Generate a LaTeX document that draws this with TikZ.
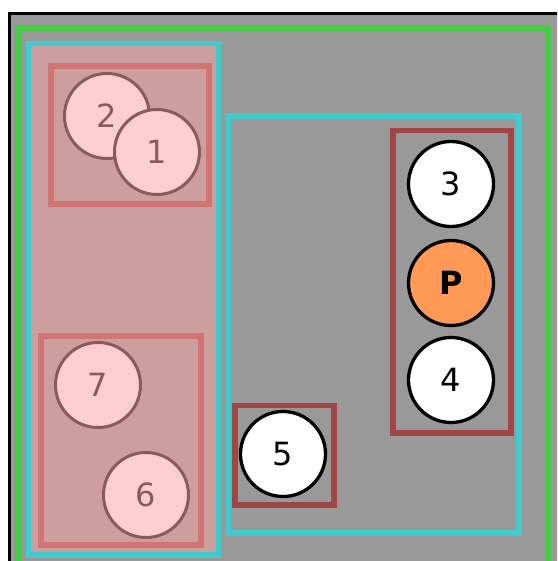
\documentclass[tikz,border=0pt]{standalone}
\usepackage{fontspec}
\setmainfont{DejaVu Sans}
\definecolor{bggray}{HTML}{999999}
\definecolor{grn}{HTML}{44CC44}
\definecolor{cyn}{HTML}{40CCCC}
\definecolor{pinkfill}{HTML}{CD9E9E}
\definecolor{lightred}{HTML}{D07474}
\definecolor{darkred}{HTML}{A04646}
\definecolor{pinkcirc}{HTML}{FFCECE}
\definecolor{pinkline}{HTML}{8B5A5A}
\definecolor{orng}{HTML}{FF9955}
\tikzset{
  pcirc/.style={circle, draw=pinkline, line width=3pt, fill=pinkcirc, minimum size=85pt, inner sep=0pt, text=pinkline, font=\fontsize{32}{32}\selectfont},
  wcirc/.style={circle, draw=black, line width=3.3pt, fill=white, minimum size=85pt, inner sep=0pt, text=black, font=\fontsize{32}{32}\selectfont},
  cybox/.style={draw=cyn, line width=5.5pt},
  lrbox/.style={draw=lightred, line width=5.5pt},
  drbox/.style={draw=darkred, line width=5.5pt},
}
\begin{document}
\begin{tikzpicture}[x=1pt,y=-1pt]
\useasboundingbox (0,0) rectangle (557,561);
\clip (0,0) rectangle (557,561);
\fill[white] (0,0) rectangle (557,561);
\draw[black, line width=3pt, fill=bggray] (9.5,14) rectangle (600,600);
\draw[grn, line width=5.5pt] (18,28) rectangle (548,600);
\draw[cybox, fill=pinkfill] (28.5,43.5) rectangle (218.5,555);
\draw[lrbox] (51,66) rectangle (209,204);
\draw[lrbox] (41,336) rectangle (201,545);
\draw[cybox] (228.5,116) rectangle (519,533);
\draw[drbox] (393,130.5) rectangle (511,433);
\draw[drbox] (235,405.5) rectangle (334,505);
\node[pcirc] (n2) at (107,116) {2};
\node[pcirc] (n1) at (157,152) {1};
\node[pcirc] (n7) at (98,385) {7};
\node[pcirc] (n6) at (146,495) {6};
\node[wcirc] (n3) at (451,184) {3};
\node[wcirc, fill=orng, font=\fontsize{32}{32}\selectfont\bfseries] (nP) at (451,283) {P};
\node[wcirc] (n4) at (451,380) {4};
\node[wcirc] (n5) at (283,454) {5};
\end{tikzpicture}
\end{document}
